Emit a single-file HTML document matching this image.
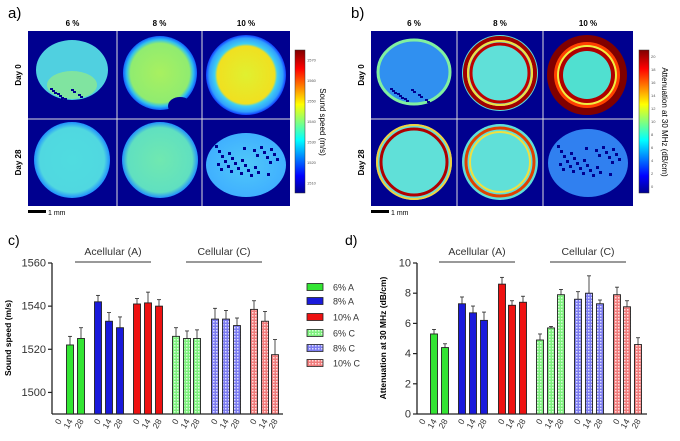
<!DOCTYPE html>
<html><head><meta charset="utf-8"><style>
html,body{margin:0;padding:0;background:#fff;}
svg{display:block;font-family:"Liberation Sans",sans-serif;}
</style></head><body>
<svg id="s" width="680" height="441" viewBox="0 0 680 441" xmlns="http://www.w3.org/2000/svg">
<defs>
<linearGradient id="jet" x1="0" y1="1" x2="0" y2="0">
<stop offset="0" stop-color="#00008f"/><stop offset="0.12" stop-color="#0000ff"/>
<stop offset="0.37" stop-color="#00ffff"/><stop offset="0.62" stop-color="#ffff00"/>
<stop offset="0.87" stop-color="#ff0000"/><stop offset="1" stop-color="#800000"/>
</linearGradient>
<pattern id="pg" width="3" height="3" patternUnits="userSpaceOnUse"><rect width="3" height="3" fill="#7ef07e"/><rect width="1.5" height="1.5" fill="#d8ffd8"/></pattern>
<pattern id="pb" width="3" height="3" patternUnits="userSpaceOnUse"><rect width="3" height="3" fill="#7c7cf0"/><rect width="1.5" height="1.5" fill="#dcdcff"/></pattern>
<pattern id="pr" width="3" height="3" patternUnits="userSpaceOnUse"><rect width="3" height="3" fill="#f07c7c"/><rect width="1.5" height="1.5" fill="#ffdcdc"/></pattern>
<radialGradient id="g8"><stop offset="0" stop-color="#a8f060"/><stop offset="0.8" stop-color="#90ec70"/><stop offset="0.9" stop-color="#30c0f0"/><stop offset="1" stop-color="#1060ff"/></radialGradient>
<radialGradient id="g10"><stop offset="0" stop-color="#e0f030"/><stop offset="0.72" stop-color="#f0e020"/><stop offset="0.78" stop-color="#40d0f0"/><stop offset="0.92" stop-color="#30a0ff"/><stop offset="1" stop-color="#1040ff"/></radialGradient>
<radialGradient id="gc"><stop offset="0" stop-color="#50dce0"/><stop offset="0.85" stop-color="#50d8e0"/><stop offset="1" stop-color="#2090ff"/></radialGradient>
<radialGradient id="gcg"><stop offset="0" stop-color="#70e8b0"/><stop offset="0.85" stop-color="#60e0c0"/><stop offset="1" stop-color="#2090ff"/></radialGradient>
<radialGradient id="gl"><stop offset="0" stop-color="#50c8f8"/><stop offset="1" stop-color="#40b0ff"/></radialGradient>
</defs>
<g id="root"></g>
</svg>
<script>
const NS="http://www.w3.org/2000/svg",R=document.getElementById('root');
function el(t,a,txt){const e=document.createElementNS(NS,t);for(const k in a)e.setAttribute(k,a[k]);if(txt!==undefined)e.textContent=txt;R.appendChild(e);return e;}
function panel(x0,xs,ys,cb,label,ticks,lab,lx){
  el('text',{x:x0-20,y:18,'font-size':15},label);
  const cols=['6 %','8 %','10 %'];
  for(let i=0;i<3;i++){el('text',{x:(xs[i]+xs[i+1])/2,y:26,'font-size':8,'font-weight':'bold','text-anchor':'middle'},cols[i]);}
  el('rect',{x:xs[0],y:ys[0],width:xs[3]-xs[0],height:ys[2]-ys[0],fill:'#00008f'});
  el('text',{x:0,y:0,'font-size':8,'font-weight':'bold','text-anchor':'middle',transform:`translate(${xs[0]-7},${(ys[0]+ys[1])/2}) rotate(-90)`},'Day 0');
  el('text',{x:0,y:0,'font-size':8,'font-weight':'bold','text-anchor':'middle',transform:`translate(${xs[0]-7},${(ys[1]+ys[2])/2}) rotate(-90)`},'Day 28');
  el('rect',{x:xs[0],y:ys[2]+4,width:18,height:3,fill:'#000'});
  el('text',{x:xs[0]+20,y:ys[2]+9,'font-size':7},'1 mm');
  el('rect',{x:cb,y:50,width:10,height:143,fill:'url(#jet)',stroke:'#333','stroke-width':0.5});
  ticks.forEach((t,i)=>{const y=193-(i+0.5)*143/ticks.length;el('text',{x:cb+12,y:y+1.5,'font-size':4,fill:'#555'},t);});
  el('text',{x:0,y:0,'font-size':8,'text-anchor':'middle',transform:`translate(${lx},122) rotate(90)`},lab);
}
panel(28,[28,117,202,290],[31,119,206],295,'a)',['1510','1520','1530','1540','1550','1560','1570'],'Sound speed (m/s)',320);
panel(371,[371,457,543,633],[31,119,206],639,'b)',['0','2','4','6','8','10','12','14','16','18','20'],'Attenuation at 30 MHz (dB/cm)',662);
el('ellipse',{cx:72,cy:70,rx:36,ry:30,fill:'#50d0e0'});
el('ellipse',{cx:72,cy:85,rx:25,ry:14,fill:'#80e4a0'});
for(let i=0;i<14;i++)el('rect',{x:50+(i*7)%40,y:88+(i*5)%14,width:3,height:2,fill:'#00008f'});
el('circle',{cx:160,cy:73,r:37,fill:'url(#g8)'});
el('ellipse',{cx:180,cy:106,rx:12,ry:9,fill:'#00008f'});
el('circle',{cx:246,cy:75,r:40,fill:'url(#g10)'});
el('circle',{cx:72,cy:160,r:38,fill:'url(#gc)'});
el('circle',{cx:160,cy:160,r:38,fill:'url(#gcg)'});
el('ellipse',{cx:246,cy:165,rx:40,ry:32,fill:'url(#gl)'});
for(let i=0;i<30;i++)el('rect',{x:215+(i*13)%62,y:145+(i*7)%30,width:3,height:3,fill:'#00008f'});
el('ellipse',{cx:414,cy:72,rx:36,ry:32,fill:'#3090f0'});
el('ellipse',{cx:414,cy:72,rx:36,ry:32,fill:'none',stroke:'#80f0a0','stroke-width':3});
for(let i=0;i<14;i++)el('rect',{x:390+(i*7)%40,y:88+(i*5)%14,width:3,height:2,fill:'#00008f'});
el('circle',{cx:500,cy:73,r:38,fill:'#60e0d8'});
el('circle',{cx:500,cy:73,r:35,fill:'none',stroke:'#a00000','stroke-width':4});
el('circle',{cx:500,cy:73,r:29,fill:'none',stroke:'#c00000','stroke-width':3});
el('circle',{cx:500,cy:73,r:32,fill:'none',stroke:'#f0e040','stroke-width':2});
el('circle',{cx:587,cy:75,r:40,fill:'#800000'});
el('circle',{cx:587,cy:75,r:33,fill:'#ff4000'});
el('circle',{cx:587,cy:75,r:30,fill:'#f0f040'});
el('circle',{cx:587,cy:75,r:28,fill:'#b00000'});
el('circle',{cx:587,cy:75,r:24,fill:'#50e0d0'});
el('circle',{cx:414,cy:162,r:38,fill:'#60e0d8'});
el('circle',{cx:414,cy:162,r:33,fill:'none',stroke:'#b00000','stroke-width':3});
el('circle',{cx:414,cy:162,r:37,fill:'none',stroke:'#f0d040','stroke-width':2});
el('circle',{cx:500,cy:162,r:38,fill:'#60e0d8'});
el('circle',{cx:500,cy:162,r:34,fill:'none',stroke:'#e04000','stroke-width':3});
el('circle',{cx:500,cy:162,r:30,fill:'none',stroke:'#f0e040','stroke-width':2});
el('ellipse',{cx:588,cy:163,rx:40,ry:34,fill:'#3080f0'});
for(let i=0;i<30;i++)el('rect',{x:557+(i*13)%62,y:145+(i*7)%30,width:3,height:3,fill:'#00008f'});
[[117,202],[457,543]].forEach(p=>p.forEach(x=>el('line',{x1:x,y1:31,x2:x,y2:206,stroke:'#ddd','stroke-width':1})));
el('line',{x1:28,y1:119,x2:290,y2:119,stroke:'#ddd','stroke-width':1});
el('line',{x1:371,y1:119,x2:633,y2:119,stroke:'#ddd','stroke-width':1});
const fills=['#33e533','#1a1adb','#ee1111','url(#pg)','url(#pb)','url(#pr)'];
function chart(lbl,lx,ax,xend,cs,vals,yf,ticks,ylab,ylx,acx,ccx){
  el('text',{x:lx,y:245,'font-size':14},lbl);
  el('line',{x1:ax,y1:263,x2:ax,y2:414,stroke:'#222','stroke-width':1.3});
  el('line',{x1:ax,y1:414,x2:xend,y2:414,stroke:'#222','stroke-width':1.3});
  ticks.forEach(t=>{const y=yf(t);el('line',{x1:ax-4,y1:y,x2:ax,y2:y,stroke:'#222','stroke-width':1.2});el('text',{x:ax-6,y:y+3.5,'font-size':11,'text-anchor':'end',fill:'#333'},t);});
  el('text',{x:0,y:0,'font-size':8.5,'font-weight':'bold','text-anchor':'middle',transform:`translate(${ylx},338) rotate(-90)`},ylab);
  el('text',{x:acx,y:255,'font-size':10.5,'text-anchor':'middle',fill:'#333'},'Acellular (A)');
  el('line',{x1:acx-38,y1:262,x2:acx+38,y2:262,stroke:'#333'});
  el('text',{x:ccx,y:255,'font-size':10.5,'text-anchor':'middle',fill:'#333'},'Cellular (C)');
  el('line',{x1:ccx-38,y1:262,x2:ccx+38,y2:262,stroke:'#333'});
  cs.forEach((c,i)=>{const v=vals[i];const lab=['0','14','28'][i%3];
    el('text',{x:0,y:0,'font-size':8.5,fill:'#333','text-anchor':'end',transform:`translate(${c+3},421) rotate(-60)`},lab);
    if(!v)return;const y=yf(v[0]),ye=yf(v[0]+v[1]);
    el('line',{x1:c,y1:y,x2:c,y2:ye,stroke:'#222','stroke-width':0.8});
    el('line',{x1:c-2,y1:ye,x2:c+2,y2:ye,stroke:'#222','stroke-width':0.8});
    el('rect',{x:c-3.5,y:y,width:7,height:414-y,fill:fills[Math.floor(i/3)],stroke:'#222','stroke-width':0.9});
  });
}
const cc=[59,70,81,98,109,120,137,148,159,176,187,197,215,226,237,254,265,275];
const cv=[null,[1522,4],[1525,5],[1542,3],[1533,4],[1530,5],[1541,2.5],[1541.5,5],[1540,3],[1526,4],[1525,3.5],[1525,4],[1534,5],[1534,4],[1531,3.5],[1538.5,4],[1533,4.5],[1517.5,7]];
chart('c)',8,52,283,cc,cv,v=>414-(v-1490)*151/70,[1500,1520,1540,1560],'Sound speed (m/s)',11,113,224);
const dc=[423,434,445,462,473,484,502,512,523,540,551,561,578,589,600,617,627,638];
const dv=[null,[5.3,.3],[4.4,.25],[7.3,.45],[6.7,.45],[6.2,.55],[8.6,.45],[7.2,.3],[7.4,.4],[4.9,.4],[5.7,.1],[7.9,.35],[7.6,.5],[8.0,1.15],[7.3,.25],[7.9,.5],[7.1,.4],[4.6,.45]];
chart('d)',345,417,647,dc,dv,v=>414-v*15.1,[0,2,4,6,8,10],'Attenuation at 30 MHz (dB/cm)',386,477,588);
const lg=['6% A','8% A','10% A','6% C','8% C','10% C'],ly=[287,301,317,333,348,363];
lg.forEach((t,i)=>{el('rect',{x:307,y:ly[i]-3.5,width:16,height:7,fill:fills[i],stroke:'#222','stroke-width':0.8});el('text',{x:333,y:ly[i]+3.5,'font-size':9,fill:'#333'},t);});
</script>
</body></html>
